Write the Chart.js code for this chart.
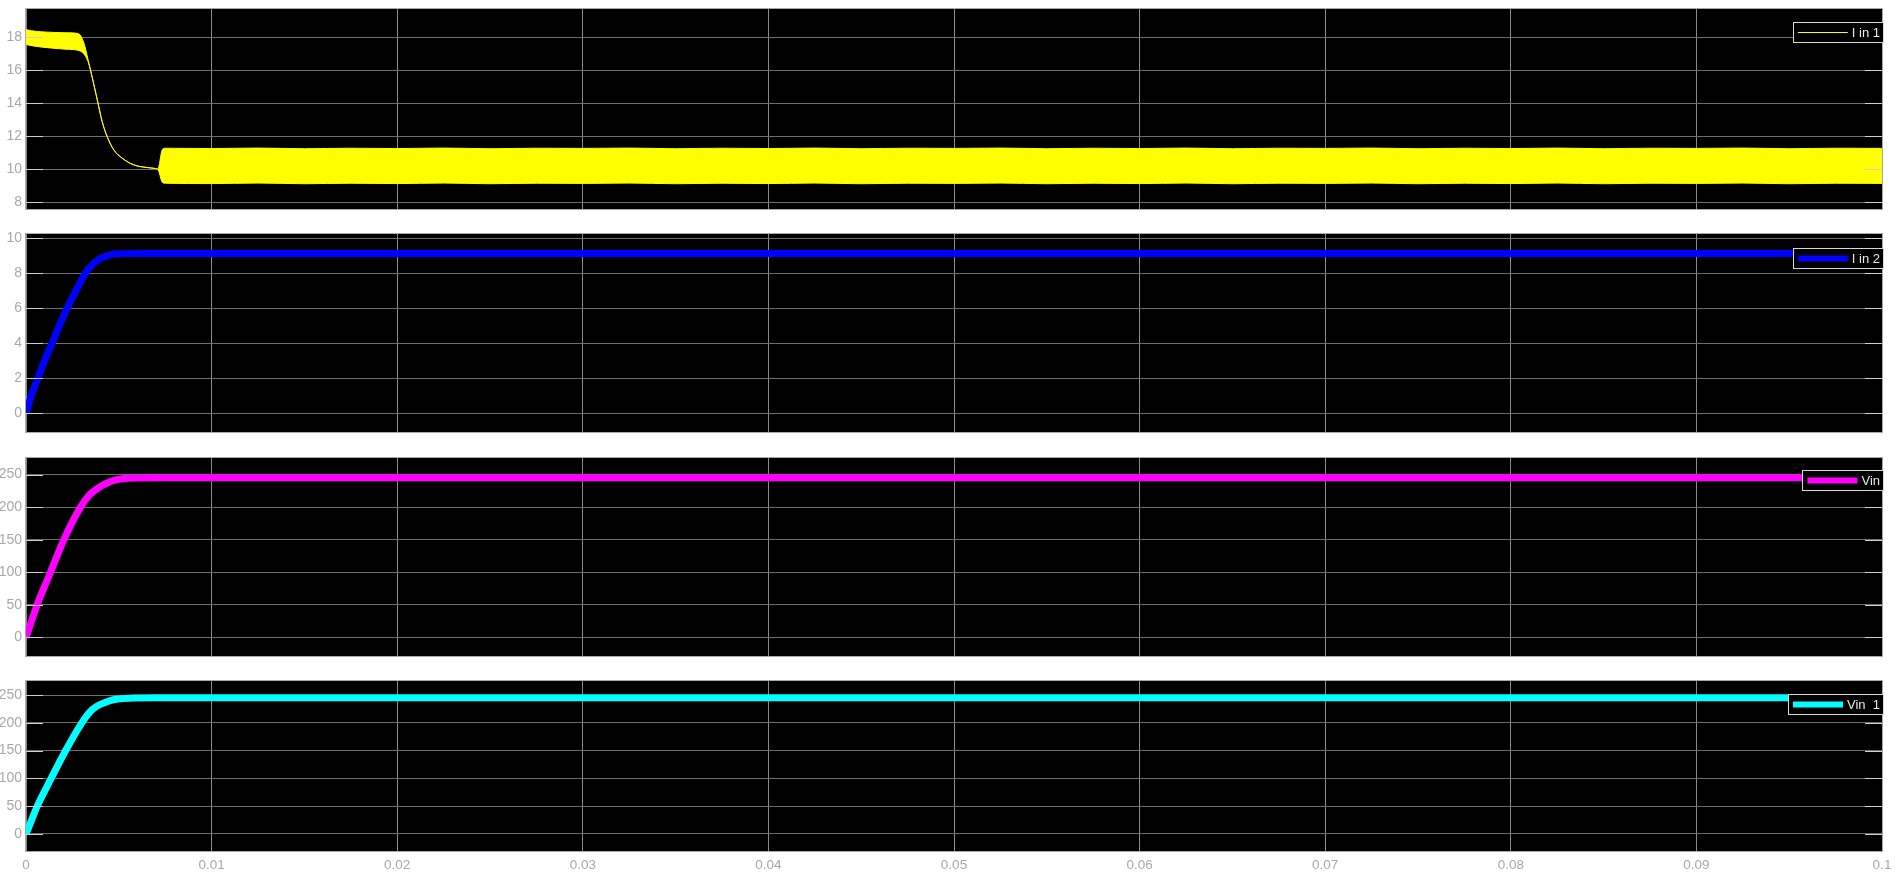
<!DOCTYPE html>
<html>
<head>
<meta charset="utf-8">
<script src="https://cdn.jsdelivr.net/npm/chart.js@4.4.1/dist/chart.umd.min.js"></script>
<style>
  html, body { margin: 0; padding: 0; background: #ffffff; width: 1902px; height: 896px; overflow: hidden; }
  .panel { position: absolute; left: 0; width: 1902px; }
</style>
</head>
<body>
<div class="panel" id="p1" style="top:5px;height:208px;"><canvas id="c1"></canvas></div>
<div class="panel" id="p2" style="top:230px;height:206px;"><canvas id="c2"></canvas></div>
<div class="panel" id="p3" style="top:454px;height:206px;"><canvas id="c3"></canvas></div>
<div class="panel" id="p4" style="top:677px;height:219px;"><canvas id="c4"></canvas></div>
<script>
// ---------- tick labels ----------
const xTicks = [0, 0.01, 0.02, 0.03, 0.04, 0.05, 0.06, 0.07, 0.08, 0.09, 0.1];
const xTickLabels = ['0', '0.01', '0.02', '0.03', '0.04', '0.05', '0.06', '0.07', '0.08', '0.09', '0.1'];
const yTicks1 = [8, 10, 12, 14, 16, 18];
const yTicks2 = [0, 2, 4, 6, 8, 10];
const yTicks3 = [0, 50, 100, 150, 200, 250];
const yTicks4 = [0, 50, 100, 150, 200, 250];

// ---------- series names ----------
const seriesNames = ['I in 1', 'I in 2', 'Vin', 'Vin  1'];

// ---------- I in 1 (ripple band: upper / lower envelope) ----------
const t1 = [0, 0.0003, 0.0008, 0.0015, 0.0022, 0.0028, 0.0031, 0.00335, 0.0036, 0.00384, 0.0041, 0.00437,
  0.00473, 0.00518, 0.00581, 0.00653, 0.00698, 0.0071, 0.00735,
  0.0075, 0.01, 0.0125, 0.015, 0.0175, 0.02, 0.0225, 0.025, 0.0275, 0.03, 0.0325, 0.035, 0.0375, 0.04,
  0.0425, 0.045, 0.0475, 0.05, 0.0525, 0.055, 0.0575, 0.06, 0.0625, 0.065, 0.0675, 0.07, 0.0725, 0.075,
  0.0775, 0.08, 0.0825, 0.085, 0.0875, 0.09, 0.0925, 0.095, 0.0975, 0.1];
const iin1Upper = [18.45, 18.38, 18.32, 18.28, 18.26, 18.22, 17.7, 16.6, 15.4, 14.2, 12.9, 11.98,
  11.17, 10.67, 10.26, 10.1, 10.04, 10.0, 11.2,
  11.27, 11.25, 11.28, 11.24, 11.27, 11.25, 11.28, 11.24, 11.27, 11.26, 11.28, 11.24, 11.27, 11.25,
  11.28, 11.24, 11.27, 11.26, 11.28, 11.24, 11.27, 11.25, 11.28, 11.24, 11.27, 11.26, 11.28, 11.24,
  11.27, 11.25, 11.28, 11.24, 11.27, 11.26, 11.28, 11.24, 11.27, 11.26];
const iin1Lower = [17.55, 17.48, 17.4, 17.32, 17.26, 17.2, 17.0, 16.5, 15.4, 14.2, 12.9, 11.98,
  11.17, 10.67, 10.26, 10.1, 10.04, 10.0, 9.2,
  9.15, 9.13, 9.16, 9.12, 9.15, 9.13, 9.16, 9.12, 9.15, 9.14, 9.16, 9.12, 9.15, 9.13,
  9.16, 9.12, 9.15, 9.14, 9.16, 9.12, 9.15, 9.13, 9.16, 9.12, 9.15, 9.14, 9.16, 9.12,
  9.15, 9.13, 9.16, 9.12, 9.15, 9.14, 9.16, 9.12, 9.15, 9.14];

// ---------- I in 2 ----------
const t2 = [0, 0.0003, 0.00064, 0.001, 0.00141, 0.0018, 0.00222, 0.0027, 0.0032, 0.0036, 0.004, 0.0044, 0.0047, 0.0052, 0.006, 0.008, 0.1];
const iin2 = [0, 1.05, 2, 3.0, 4, 5.0, 6, 7.0, 8, 8.5, 8.83, 9.0, 9.08, 9.11, 9.12, 9.12, 9.12];

// ---------- Vin ----------
const t3 = [0, 0.0003, 0.0006, 0.00132, 0.00204, 0.00294, 0.0034, 0.00384, 0.0043, 0.00473, 0.0052, 0.00581, 0.007, 0.1];
const vin = [0, 25, 50, 100, 150, 200, 218, 228.5, 236, 241, 243.5, 244.8, 245, 245];

// ---------- Vin 1 ----------
const t4 = [0, 0.0003, 0.0006, 0.00132, 0.00213, 0.003, 0.0034, 0.0038, 0.0043, 0.0047, 0.0052, 0.0058, 0.007, 0.1];
const vin1 = [0, 25, 49.7, 97.7, 149.8, 199.6, 218, 229.5, 237, 241.5, 243.5, 244.8, 245, 245];

// ---------- helpers ----------
const pts = (xs, ys) => xs.map((x, i) => ({ x: x, y: ys[i] }));
const FONT = 'Liberation Sans, Arial, Helvetica, sans-serif';

const scopePlugin = {
  id: 'scope',
  beforeDraw(chart) {
    const { ctx, chartArea: a } = chart;
    ctx.save();
    ctx.fillStyle = '#000000';
    ctx.fillRect(a.left, a.top, a.right - a.left, a.bottom - a.top);
    ctx.restore();
  },
  afterDraw(chart, args, opts) {
    const { ctx, chartArea: a } = chart;
    const ys = chart.scales.y;
    ctx.save();
    // inward tick marks
    ctx.strokeStyle = '#d0d0d0';
    ctx.lineWidth = 1;
    ys.ticks.forEach(t => {
      const y = Math.round(ys.getPixelForValue(t.value)) + 0.5;
      ctx.beginPath();
      ctx.moveTo(a.left, y); ctx.lineTo(a.left + 17, y);
      ctx.moveTo(a.right - 17, y); ctx.lineTo(a.right, y);
      ctx.stroke();
    });
    // plot border
    ctx.strokeStyle = '#a8a8a8';
    ctx.strokeRect(a.left - 0.5, a.top - 0.5, a.right - a.left + 1, a.bottom - a.top + 1);
    // legend box
    ctx.font = '13px ' + FONT;
    const tw = ctx.measureText(opts.label).width;
    const h = 21;
    const w = 5 + 50 + 4 + tw + 4;
    const right = a.right + 2;
    const left = right - w;
    const top = a.top + opts.offset;
    ctx.fillStyle = '#000000';
    ctx.fillRect(left, top, w, h);
    ctx.strokeStyle = '#d8d8d8';
    ctx.strokeRect(Math.round(left) + 0.5, top + 0.5, Math.round(w) - 1, h - 1);
    ctx.strokeStyle = opts.color;
    ctx.lineWidth = opts.lineWidth;
    ctx.beginPath();
    ctx.moveTo(left + 5, top + h / 2);
    ctx.lineTo(left + 55, top + h / 2);
    ctx.stroke();
    ctx.fillStyle = '#e8e8e8';
    ctx.textBaseline = 'middle';
    ctx.textAlign = 'left';
    ctx.fillText(opts.label, left + 59, top + h / 2 + 0.5);
    ctx.restore();
  }
};

function makeChart(canvasId, datasets, yMin, yMax, yTickArr, showX, xHeight, legendOpts) {
  return new Chart(document.getElementById(canvasId), {
    type: 'line',
    data: { datasets: datasets },
    plugins: [scopePlugin],
    options: {
      responsive: true,
      maintainAspectRatio: false,
      animation: false,
      devicePixelRatio: 1,
      layout: { padding: { top: 4, right: 20, left: 0, bottom: 0 } },
      elements: { point: { radius: 0 } },
      plugins: {
        legend: { display: false },
        tooltip: { enabled: false },
        scope: legendOpts
      },
      scales: {
        x: {
          type: 'linear',
          min: 0, max: 0.1,
          afterBuildTicks: s => { s.ticks = xTicks.map(v => ({ value: v })); },
          afterFit: s => { s.height = xHeight; s.paddingLeft = 0; s.paddingRight = 0; },
          grid: { color: '#8a8a8a', lineWidth: 1, drawTicks: false },
          border: { display: false },
          ticks: {
            display: showX,
            padding: 6,
            maxRotation: 0,
            autoSkip: false,
            color: '#a8a8a8',
            font: { family: FONT, size: 13.5 },
            callback: (v, i) => xTickLabels[i]
          }
        },
        y: {
          type: 'linear',
          min: yMin, max: yMax,
          afterBuildTicks: s => { s.ticks = yTickArr.map(v => ({ value: v })); },
          afterFit: s => { s.width = 26; s.paddingTop = 0; s.paddingBottom = 0; },
          grid: { color: '#6e6e6e', lineWidth: 1, drawTicks: false },
          border: { display: false },
          ticks: {
            padding: 4,
            color: '#a8a8a8',
            font: { family: FONT, size: 14 }
          }
        }
      }
    }
  });
}

makeChart('c1', [
  { label: seriesNames[0], data: pts(t1, iin1Upper), borderColor: '#ffff00', backgroundColor: '#ffff00',
    borderWidth: 1, fill: '+1', cubicInterpolationMode: 'monotone', clip: 0 },
  { label: seriesNames[0] + ' low', data: pts(t1, iin1Lower), borderColor: '#ffff00', backgroundColor: '#ffff00',
    borderWidth: 1, fill: false, cubicInterpolationMode: 'monotone', clip: 0 }
], 7.59, 19.7, yTicks1, false, 4, { label: seriesNames[0], color: '#ffff00', lineWidth: 1, offset: 13 });

makeChart('c2', [
  { label: seriesNames[1], data: pts(t2, iin2), borderColor: '#0000ff', borderWidth: 7,
    fill: false, cubicInterpolationMode: 'monotone', clip: 0 }
], -1.07, 10.23, yTicks2, false, 4, { label: seriesNames[1], color: '#0000ff', lineWidth: 6, offset: 14 });

makeChart('c3', [
  { label: seriesNames[2], data: pts(t3, vin), borderColor: '#ff00ff', borderWidth: 7,
    fill: false, cubicInterpolationMode: 'monotone', clip: 0 }
], -28.7, 275.5, yTicks3, false, 4, { label: seriesNames[2], color: '#ff00ff', lineWidth: 6, offset: 12 });

makeChart('c4', [
  { label: seriesNames[3], data: pts(t4, vin1), borderColor: '#00ffff', borderWidth: 7,
    fill: false, cubicInterpolationMode: 'monotone', clip: 0 }
], -30.6, 275.2, yTicks4, true, 45, { label: seriesNames[3], color: '#00ffff', lineWidth: 6, offset: 13 });
</script>
</body>
</html>
